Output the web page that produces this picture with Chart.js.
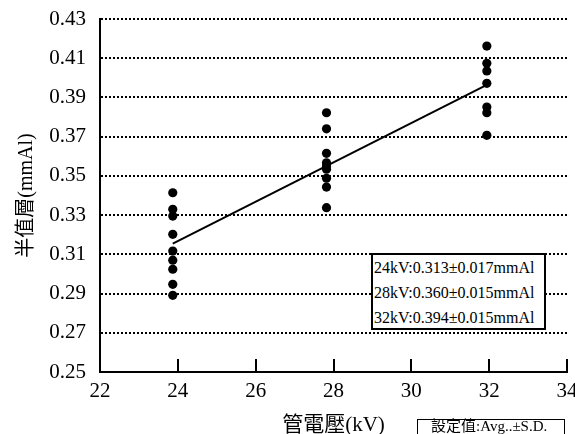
<!DOCTYPE html>
<html>
<head>
<meta charset="utf-8">
<script src="https://cdn.jsdelivr.net/npm/chart.js@4/dist/chart.umd.min.js"></script>
<style>
  html, body { margin:0; padding:0; background:#fff; }
  #wrap { position:relative; width:575px; height:434px; overflow:hidden; }
  #c { position:absolute; left:0; top:0; }
  .note { position:absolute; background:#fff; color:#000; font-family:"Liberation Serif","Noto Sans CJK TC",serif; box-sizing:border-box; white-space:nowrap; }
  #stats { left:371px; top:253px; width:175px; height:77px; border:2px solid #000; font-size:16px; line-height:25px; padding:0 0 0 1px; }
  #setting { left:417px; top:419px; width:148px; height:24px; border:1px solid #000; font-size:15px; line-height:14px; padding:0 0 0 13px; }
  #setting span { position:relative; top:-1px; }
</style>
</head>
<body>
<div id="wrap">
  <canvas id="c" width="575" height="434"></canvas>
  <div class="note" id="stats"></div>
  <div class="note" id="setting"><span>設定值:Avg..±S.D.</span></div>
</div>
<script>
// 管電壓の実測位置 (kV) と各設定での半値層 (mmAl)
const kvMeasured = [23.87, 27.82, 31.94];
const hvl24 = [0.3414, 0.3330, 0.3295, 0.3202, 0.3117, 0.3070, 0.3024, 0.2947, 0.2891];
const hvl28 = [0.3822, 0.3740, 0.3615, 0.3567, 0.3550, 0.3534, 0.3488, 0.3443, 0.3338];
const hvl32 = [0.4162, 0.4074, 0.4035, 0.3972, 0.3851, 0.3822, 0.3707];
const trendKv = [23.87, 31.94];
const trendHvl = [0.3155, 0.3964];
const statLines = ['24kV:0.313±0.017mmAl', '28kV:0.360±0.015mmAl', '32kV:0.394±0.015mmAl'];

const SERIF = '"Liberation Serif", "Noto Sans CJK TC", serif';

document.getElementById('stats').innerHTML = statLines.map(s => `<div>${s}</div>`).join('');

const points = [hvl24, hvl28, hvl32].flatMap((arr, i) => arr.map(v => ({ x: kvMeasured[i], y: v })));
const trend = trendKv.map((x, i) => ({ x, y: trendHvl[i] }));

// 内向きの目盛り線 (x軸)
const innerTicks = {
  id: 'innerTicks',
  afterDatasetsDraw(chart){
    const sx = chart.scales.x, ctx = chart.ctx, bottom = chart.chartArea.bottom;
    ctx.save();
    ctx.strokeStyle = '#000'; ctx.lineWidth = 2;
    sx.ticks.forEach(t => {
      const px = Math.round(sx.getPixelForValue(t.value));
      ctx.beginPath(); ctx.moveTo(px, bottom); ctx.lineTo(px, bottom - 13); ctx.stroke();
    });
    ctx.restore();
  }
};

new Chart(document.getElementById('c'), {
  type: 'scatter',
  data: {
    datasets: [
      { data: trend, showLine: true, borderColor: '#000', borderWidth: 2, pointRadius: 0, order: 2 },
      { data: points, backgroundColor: '#000', borderColor: '#000', pointRadius: 4.6, borderWidth: 0, order: 1 }
    ]
  },
  options: {
    responsive: false,
    animation: false,
    layout: { padding: { top: 19, right: 8, left: 0, bottom: 0 } },
    plugins: { legend: { display: false }, tooltip: { enabled: false } },
    scales: {
      x: {
        type: 'linear', min: 22, max: 34,
        afterFit(s){ s.height = 62; s.paddingLeft = 0; s.paddingRight = 0; },
        ticks: { stepSize: 2, color: '#000', padding: 7, font: { family: SERIF, size: 21 } },
        grid: { drawOnChartArea: false, drawTicks: false },
        border: { display: true, color: '#000', width: 2 },
        title: { display: true, text: '管電壓(kV)', color: '#000', padding: 0, font: { family: SERIF, size: 21, lineHeight: 0.85 } }
      },
      y: {
        min: 0.25, max: 0.43,
        afterFit(s){ s.width = 100; s.paddingTop = 0; s.paddingBottom = 0; },
        ticks: { stepSize: 0.02, color: '#000', padding: 14, font: { family: SERIF, size: 21 }, callback: v => v.toFixed(2) },
        grid: { color: '#000', lineWidth: 2, drawTicks: false },
        border: { display: true, color: '#000', width: 2, dash: [2, 2] },
        title: { display: true, text: '半值層(mmAl)', color: '#000', padding: { top: 15 }, font: { family: SERIF, size: 20 } }
      }
    }
  },
  plugins: [innerTicks]
});
</script>
</body>
</html>
